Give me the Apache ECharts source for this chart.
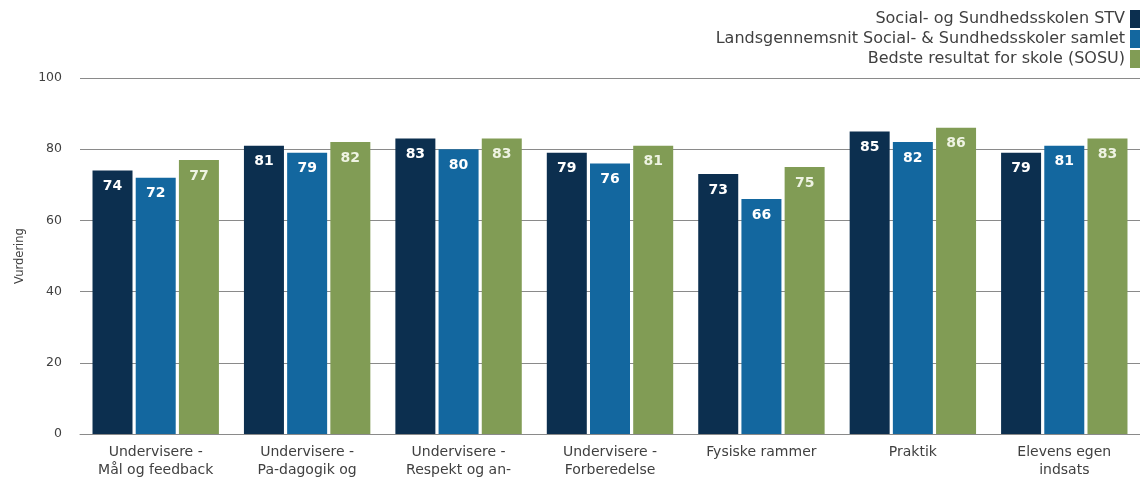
<!DOCTYPE html>
<html><head><meta charset="utf-8">
<script src="https://cdn.jsdelivr.net/npm/echarts@6/dist/echarts.min.js"></script>
<style>html,body{margin:0;padding:0;background:#fff}#c{width:1140px;height:479px}</style>
</head><body><div id="c"></div>
<script>
const categories = ['Undervisere -\nMål og feedback','Undervisere -\nPa-dagogik og','Undervisere -\nRespekt og an-','Undervisere -\nForberedelse','Fysiske rammer','Praktik','Elevens egen\nindsats'];
const seriesNames = ['Social- og Sundhedsskolen STV','Landsgennemsnit Social- & Sundhedsskoler samlet','Bedste resultat for skole (SOSU)'];
const stv = [74, 81, 83, 79, 73, 85, 79];
const lands = [72, 79, 80, 76, 66, 82, 81];
const best = [77, 82, 83, 81, 75, 86, 83];
const yTicks = [0, 20, 40, 60, 80, 100];
const colors = ['#0c2f4f', '#13679f', '#819c55'];
const font = 'DejaVu Sans';
const chart = echarts.init(document.getElementById('c'));
const mk = (name, data, i) => ({
  name, type: 'bar', data, barWidth: 40, barGap: '8%',
  itemStyle: { color: colors[i] },
  label: { show: true, position: 'insideTop', distance: 9, color: i === 2 ? '#eef3e2' : '#ffffff', fontFamily: font, fontWeight: 'bold', fontSize: 14 }
});
chart.setOption({
  animation: false,
  textStyle: { fontFamily: font },
  legend: {
    orient: 'vertical', right: -13, top: 5, align: 'right', itemGap: 2,
    itemWidth: 18, itemHeight: 18, icon: 'rect',
    textStyle: { fontFamily: font, fontSize: 16, color: '#404040', padding: [0, 0, 0, 0] },
    data: seriesNames
  },
  grid: { left: 80, top: 78, bottom: 42, width: 1071, containLabel: false },
  xAxis: {
    type: 'category', data: categories,
    axisLine: { lineStyle: { color: '#8a8a8a' } }, axisTick: { show: false },
    axisLabel: { fontFamily: font, fontSize: 14, color: '#404040', margin: 9, lineHeight: 18, interval: 0 }
  },
  yAxis: {
    type: 'value', min: yTicks[0], max: yTicks[yTicks.length - 1], interval: 20,
    name: 'Vurdering', nameLocation: 'middle', nameGap: 54, nameRotate: 90,
    nameTextStyle: { fontFamily: font, fontSize: 11.5, color: '#404040' },
    axisLine: { show: false }, axisTick: { show: false },
    axisLabel: { fontFamily: font, fontSize: 12.5, color: '#404040', margin: 18 },
    splitLine: { lineStyle: { color: '#8a8a8a', width: 1 } }
  },
  series: [mk(seriesNames[0], stv, 0), mk(seriesNames[1], lands, 1), mk(seriesNames[2], best, 2)]
});
</script></body></html>
